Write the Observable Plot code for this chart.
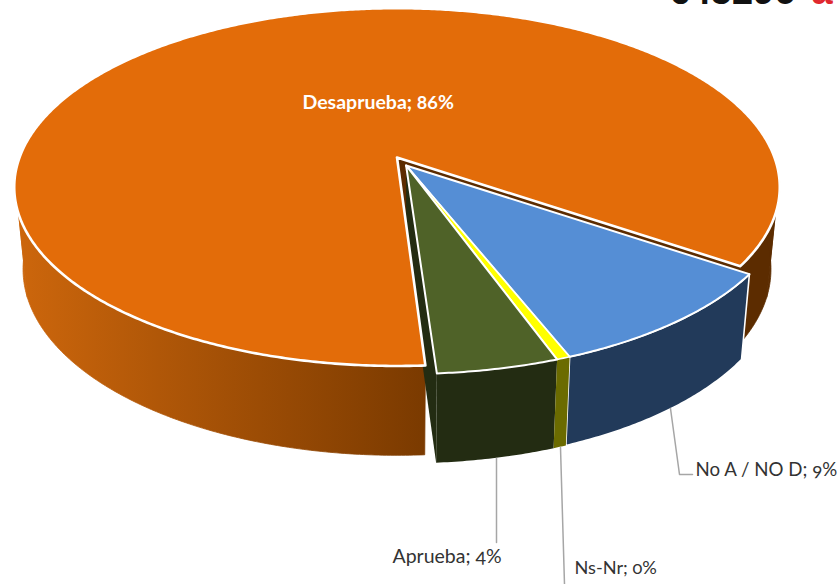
<!DOCTYPE html>
<html>
<head>
<meta charset="utf-8">
<style>
html,body{margin:0;padding:0;background:#fff;overflow:hidden}
svg{display:block}
text{font-variant-numeric:oldstyle-nums;font-feature-settings:"onum"}
</style>
<script src="https://cdn.jsdelivr.net/npm/d3@7"></script>
<script src="https://cdn.jsdelivr.net/npm/@observablehq/plot@0.6"></script>
</head>
<body>
<div id="chart"></div>
<script>
// Data
const categories = ["Aprueba", "Ns-Nr", "No A / NO D", "Desaprueba"];
const shares = [4.4, 0.49, 9.45, 85.66];
const labelPercent = shares.map(v => Math.round(v));

// Style
const topColors = ["#4f6228", "#ffff00", "#558ed5", "#e36c09"];
const sideColors = ["#232c12", "#6b6b00", "#223a5a", "#5c2c00"];
const orangeSideStops = ["#cc660c", "#7a3a00"];

// 3D projection of the disc
const startAngle = 3.9, k = 0.1653, A = 377.5, B = 174, orangeInset = 0.3;
const bottom = {dy: 81, sx: 0.977, sy: 1.04};
const centers = [[405.6, 165], [405.6, 165], [405.6, 165], [396.5, 157]];

const rad = d => d * Math.PI / 180;
function rim(c, a, low) {
  const w = 1 - k * Math.cos(rad(a));
  const X = A * Math.sin(rad(a)) / w, Y = B * Math.cos(rad(a)) / w;
  return low ? {x: c[0] + X * bottom.sx, y: c[1] + bottom.dy + Y * bottom.sy}
             : {x: c[0] + X, y: c[1] + Y};
}
const apex = (c, low) => low ? {x: c[0], y: c[1] + bottom.dy} : {x: c[0], y: c[1]};
function arc(c, a0, a1, low) {
  const n = Math.max(2, Math.ceil(Math.abs(a1 - a0) * 2)), pts = [];
  for (let i = 0; i <= n; i++) pts.push(rim(c, a0 + (a1 - a0) * i / n, low));
  return pts;
}

let acc = startAngle;
const slices = categories.map((name, i) => {
  const a0 = acc, a1 = acc + shares[i] * 3.6;
  acc = a1;
  return {name, a0, a1, c: centers[i], top: topColors[i], side: sideColors[i]};
});
const [green, yellow, blue, orange] = slices;
orange.a1 -= orangeInset;

const close = p => [...p, p[0]];
const poly = (pts, fill, stroke = "none", strokeWidth = 2.4) =>
  Plot.line(close(pts), {x: "x", y: "y", fill, stroke, strokeWidth, strokeLinejoin: "round", curve: "linear"});
const topFace = s => [apex(s.c), ...arc(s.c, s.a0, s.a1)];
const sideFace = (s, a0 = s.a0, a1 = s.a1) => [...arc(s.c, a0, a1), ...arc(s.c, a1, a0, true)];
const cutFace = (s, a) => [apex(s.c), rim(s.c, a), rim(s.c, a, true), apex(s.c, true)];

// Gradient of the orange wall, as a paint server the marks can refer to
const wallGradient = () => {
  const defs = d3.create("svg:defs");
  const g = defs.append("linearGradient").attr("id", "wallShade")
    .attr("gradientUnits", "userSpaceOnUse")
    .attr("x1", 20).attr("x2", 427).attr("y1", 0).attr("y2", 0);
  orangeSideStops.forEach((c, i) => g.append("stop").attr("offset", i).attr("stop-color", c));
  return defs.node();
};
const wallPaint = "url(#wallShade)";

const labels = [
  {text: `${categories[3]}; ${labelPercent[3]}%`, x: 302, y: 102, fill: "#fff", weight: 700, size: 19.5},
  {text: `${categories[2]}; ${labelPercent[2]}%`, x: 695, y: 470, fill: "#333333", weight: 400, size: 18.7},
  {text: `${categories[0]}; ${labelPercent[0]}%`, x: 392, y: 556, fill: "#333333", weight: 400, size: 19.5},
  {text: `${categories[1]}; ${labelPercent[1]}%`, x: 574, y: 568, fill: "#333333", weight: 400, size: 18.2}
];
const leaders = [
  [{x: 670, y: 408}, {x: 679, y: 474}, {x: 692, y: 474}],
  [{x: 496, y: 458}, {x: 496, y: 542}],
  [{x: 560, y: 447}, {x: 564, y: 584}]
];

const chart = Plot.plot({
  width: 837, height: 584,
  margin: 0,
  x: {domain: [0, 837], range: [0, 837], axis: null},
  y: {domain: [0, 584], range: [0, 584], axis: null},
  style: {background: "#fff", overflow: "hidden"},
  marks: [
    wallGradient,
    // cropped logo at the top edge
    Plot.text(["€45296"], {x: [668], y: [-9], text: d => d, textAnchor: "start", fontSize: 38, fontWeight: 700, fontFamily: "Liberation Sans", fill: "#111"}),
    Plot.text(["a"], {x: [811], y: [-9], text: d => d, textAnchor: "start", fontSize: 38, fontWeight: 700, fontFamily: "Liberation Sans", fill: "#e0282e"}),
    // walls and cut faces, back to front
    poly(sideFace(orange, orange.a0, 72), orange.side, orange.side, 0.8),
    poly(sideFace(orange, 72, 130), orange.side, orange.side, 0.8),
    poly(sideFace(orange, 240, 288), wallPaint, wallPaint, 0.8),
    poly(sideFace(orange, 288, orange.a1), wallPaint, wallPaint, 0.8),
    poly(cutFace(orange, orange.a0), orange.side),
    poly(cutFace(green, green.a0), green.side),
    poly(topFace(orange), orange.top, "#fff", 2.6),
    poly(sideFace(blue), blue.side, "#fff", 1.6),
    poly(sideFace(green), green.side),
    poly(sideFace(yellow), yellow.side),
    poly(topFace(blue), blue.top, "#fff", 2),
    poly(topFace(yellow), yellow.top, "#fff", 1.6),
    poly(topFace(green), green.top, "#fff", 2),
    // leaders
    ...leaders.map(l => Plot.line(l, {x: "x", y: "y", stroke: "#a6a6a6", strokeWidth: 1.5, curve: "linear"})),
    // labels
    ...labels.map(l => Plot.text([l], {
      x: "x", y: "y", text: "text", textAnchor: "start", lineAnchor: "middle",
      fill: l.fill, fontWeight: l.weight, fontSize: l.size, fontFamily: "Lato"
    }))
  ]
});
document.getElementById("chart").append(chart);
</script>
</body>
</html>
